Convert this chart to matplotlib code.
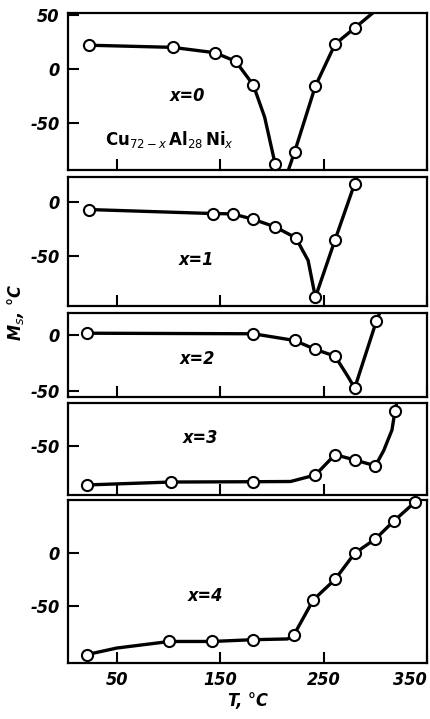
import matplotlib
matplotlib.use("Agg")
import matplotlib.pyplot as plt

# ---- data (T in °C, Ms in °C) ----
T0 = [23, 104, 145, 165, 182, 203, 222, 242, 261, 280]
M0 = [22, 20, 15, 7, -15, -88, -77, -16, 23, 38]
curveT0 = [23, 104, 145, 165, 182, 193, 203, 211, 222, 242, 261, 280, 300]
curveM0 = [22, 20, 15, 7, -15, -45, -88, -108, -77, -16, 23, 38, 54]

T1 = [23, 143, 162, 182, 203, 223, 242, 261, 280]
M1 = [-7, -10.7, -11, -16, -23, -33, -88, -35, 17]
curveT1 = [23, 143, 162, 182, 203, 223, 235, 242, 261, 280, 283]
curveM1 = [-7, -10.7, -11, -16, -23, -33, -54, -88, -35, 17, 25]

T2 = [21, 182, 222, 242, 261, 280, 301]
M2 = [2, 1.5, -4.5, -12.5, -18.5, -47, 13]
curveT2 = [21, 182, 222, 242, 261, 273, 280, 301, 305]
curveM2 = [2, 1.5, -4.5, -12.5, -18.5, -36, -47, 13, 22]

T3 = [21, 102, 182, 242, 261, 280, 300, 319]
M3 = [-85.7, -83, -82.7, -76.5, -57.7, -62.6, -68, -17]
curveT3 = [21, 102, 182, 218, 242, 261, 280, 300, 308, 316, 319, 321]
curveM3 = [-85.7, -83, -82.7, -82.5, -76.5, -57.7, -62.6, -68, -54, -35, -17, -8]

T4 = [21, 101, 142, 182, 221, 240, 261, 280, 300, 318, 338]
M4 = [-97, -84.4, -84.4, -82.7, -78.6, -44.6, -25, 0, 13.7, 31, 48.7]
curveT4 = [21, 50, 101, 142, 182, 215, 221, 240, 261, 280, 300, 318, 338]
curveM4 = [-97, -90.7, -84.4, -84.4, -82.7, -82, -78.6, -44.6, -25, 0, 13.7, 31, 48.7]

labels = ["x=0", "x=1", "x=2", "x=3", "x=4"]
xticks = [50, 150, 250, 350]

panels = [
    (T0, M0, curveT0, curveM0, (-94, 52), [-50, 0, 50], (0.7636, 0.2184), (118, -25)),
    (T1, M1, curveT1, curveM1, (-96, 23), [-50, 0], (0.5744, 0.1794), (127, -54)),
    (T2, M2, curveT2, curveM2, (-55, 20), [-50, 0], (0.4478, 0.1168), (128, -21)),
    (T3, M3, curveT3, curveM3, (-95, -10), [-50], (0.3115, 0.1280), (131, -42)),
    (T4, M4, curveT4, curveM4, (-105, 51), [-50, 0], (0.0779, 0.2267), (136, -41)),
]

fig = plt.figure(figsize=(4.31, 7.19), dpi=100)
fp = dict(family="DejaVu Sans", stretch="condensed", style="italic", weight="bold")

axes = []
for i, (T, M, cT, cM, yl, yt, (b, h), lab) in enumerate(panels):
    ax = fig.add_axes([0.158, b, 0.833, h])
    axes.append(ax)
    ax.plot(cT, cM, "-", color="black", lw=2.4, solid_capstyle="round",
            solid_joinstyle="round")
    ax.plot(T, M, "o", mfc="white", mec="black", ms=8, mew=1.5, clip_on=False,
            zorder=5)
    ax.set_xlim(3, 350)
    ax.set_ylim(*yl)
    ax.set_xticks(xticks)
    ax.set_yticks(yt)
    ax.set_yticklabels(["-50" if v == -50 else str(v) for v in yt], fontsize=13, **fp)
    ax.tick_params(direction="in", length=8, width=1.5, pad=6)
    ax.tick_params(axis="x", top=False)
    ax.tick_params(axis="y", right=False)
    for s in ax.spines.values():
        s.set_linewidth(1.6)
    if i < 4:
        ax.set_xticklabels([])
    else:
        tl = ax.set_xticklabels([str(v) for v in xticks], fontsize=13, **fp)
        tl[-1].set_horizontalalignment("right")
    ax.text(lab[0], lab[1], labels[i], fontsize=13, ha="center", va="center", **fp)

axes[0].text(101, -66, r"Cu$_{72-x}\,$Al$_{28}\,$Ni$_x$", fontsize=12,
             ha="center", va="center", family="DejaVu Sans", weight="bold")
axes[4].set_xlabel("T, °C", fontsize=13, labelpad=2, **fp)
fig.text(0.035, 0.565, r"M$_s$, °C", rotation=90, fontsize=13, ha="center",
         va="center", **fp)

fig.savefig("out.png", dpi=100)
